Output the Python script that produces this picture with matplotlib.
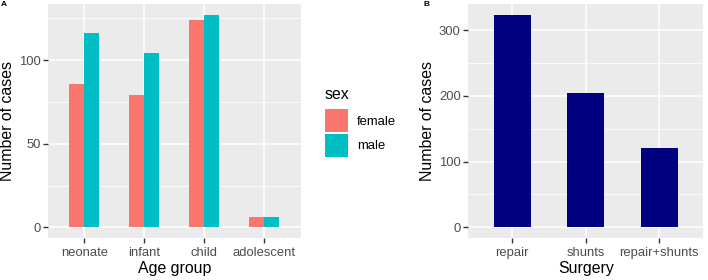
import matplotlib
matplotlib.use("Agg")
import matplotlib.pyplot as plt
import numpy as np
from matplotlib.patches import Patch

plt.rcParams['font.family'] = ['Liberation Sans', 'DejaVu Sans']

age_groups = ["neonate", "infant", "child", "adolescent"]
female = [86, 79, 124, 6]
male = [116, 104, 127, 6]
sex_labels = ["female", "male"]
surgery = ["repair", "shunts", "repair+shunts"]
surgery_counts = [323, 204, 120]

W, H = 708, 280
fig = plt.figure(figsize=(W / 100, H / 100), dpi=100)

BG = "#EBEBEB"
TICKC = "#4D4D4D"
FEM = "#F8766D"
MAL = "#00BFC4"
TS = 9.4
AS = 11.4

def px_axes(l, t, r, b):
    return fig.add_axes([l / W, 1 - b / H, (r - l) / W, (b - t) / H])

def style(ax, minor):
    ax.set_facecolor(BG)
    for s in ax.spines.values():
        s.set_visible(False)
    ax.set_axisbelow(True)
    ax.grid(True, which="major", color="white", linewidth=1.1)
    ax.set_yticks(minor, minor=True)
    ax.grid(True, which="minor", axis="y", color="white", linewidth=0.55)
    ax.tick_params(which="major", length=3.5, width=1, color="#333333",
                   labelcolor=TICKC, labelsize=TS, pad=2)
    ax.tick_params(axis="x", which="major", pad=3)
    ax.tick_params(which="minor", length=0)

# Panel A
axA = px_axes(48.3, 4.3, 300.5, 238)
x = np.arange(len(age_groups))
w = 0.25
axA.bar(x - w / 2, female, width=w, color=FEM, label=sex_labels[0])
axA.bar(x + w / 2, male, width=w, color=MAL, label=sex_labels[1])
axA.set_xticks(x)
axA.set_xticklabels(age_groups)
axA.set_yticks([0, 50, 100])
ymaxA = max(max(female), max(male))
axA.set_ylim(-0.05 * ymaxA, 1.05 * ymaxA)
axA.set_xlim(-0.6, len(age_groups) - 0.4)
style(axA, [25, 75, 125])
axA.set_xlabel("Age group", fontsize=AS, labelpad=1.5)
axA.set_ylabel("Number of cases", fontsize=AS, labelpad=3)

fig.text(325 / W, 1 - 99 / H, "sex", fontsize=AS, ha="left", va="baseline")
fig.legend(handles=[Patch(facecolor=FEM, edgecolor="none"),
                    Patch(facecolor=MAL, edgecolor="none")],
           labels=sex_labels, loc="upper left",
           bbox_to_anchor=(325 / W, 1 - 109 / H), frameon=False,
           fontsize=TS, handlelength=1.76, handleheight=2.33,
           handletextpad=0.69, labelspacing=0.15, borderaxespad=0,
           borderpad=0)

# Panel B
axB = px_axes(468.3, 4.3, 703.3, 238)
xb = np.arange(len(surgery))
axB.bar(xb, surgery_counts, width=0.5, color="navy")
axB.set_xticks(xb)
axB.set_xticklabels(surgery)
axB.set_yticks([0, 100, 200, 300])
ymaxB = max(surgery_counts)
axB.set_ylim(-0.05 * ymaxB, 1.05 * ymaxB)
axB.set_xlim(-0.6, len(surgery) - 0.4)
style(axB, [50, 150, 250])
axB.set_xlabel("Surgery", fontsize=AS, labelpad=1.5)
axB.set_ylabel("Number of cases", fontsize=AS, labelpad=3)

fig.text(1 / W, 1 - 1.5 / H, "A", fontsize=6, fontweight="bold", va="top", ha="left")
fig.text(424 / W, 1 - 1.5 / H, "B", fontsize=6, fontweight="bold", va="top", ha="left")

fig.savefig("out.png", dpi=100)
